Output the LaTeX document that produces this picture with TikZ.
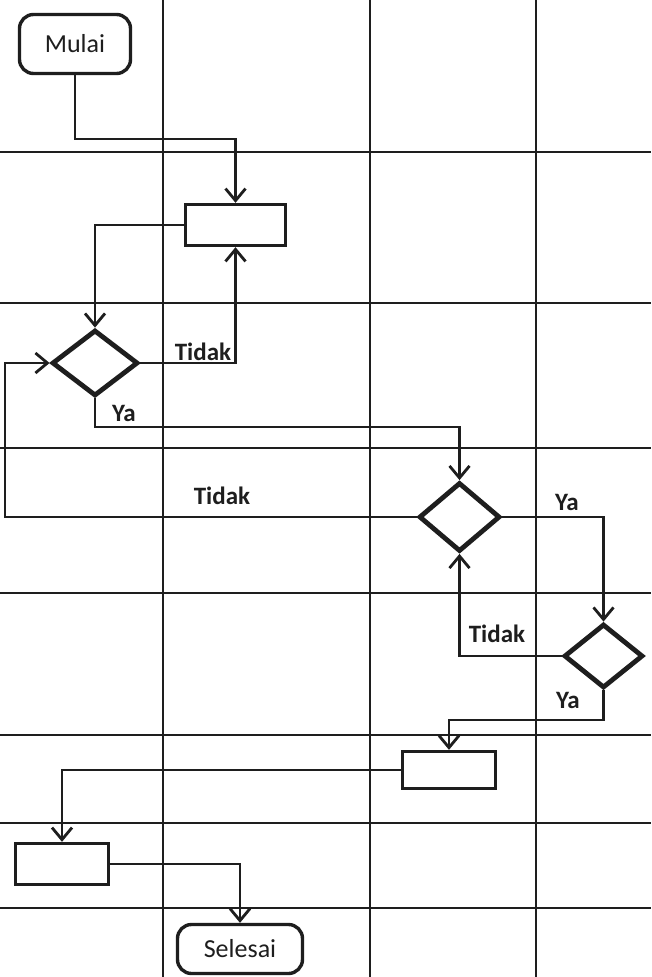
\documentclass[tikz,border=0pt]{standalone}
\usepackage{fontspec}
\setmainfont{Carlito}
\usetikzlibrary{shapes.geometric,arrows.meta}
\definecolor{ink}{HTML}{1E1E1E}
\begin{document}
\begin{tikzpicture}[x=1pt,y=-1pt,
  gridline/.style={draw=ink,line width=1.6pt},
  conn/.style={draw=ink,line width=2.8pt},
  arr/.style={conn,-{Straight Barb[length=12pt,width=20pt,line width=2.8pt]}},
  term/.style={draw=ink,line width=3.4pt,rounded corners=14pt,fill=white,inner sep=0pt,font=\fontsize{26}{29}\selectfont,text=ink},
  proc/.style={draw=ink,line width=3.4pt,fill=white,inner sep=0pt},
  dec/.style={diamond,draw=ink,line width=4.8pt,fill=white,inner sep=0pt},
  lbl/.style={font=\bfseries\fontsize{25}{28}\selectfont,text=ink,inner sep=0pt}
]
\useasboundingbox[fill=white] (0,0) rectangle (651,977);
% grid
\foreach \gx in {163,370,536} \draw[gridline] (\gx,0) -- (\gx,977);
\foreach \gy in {152,303,448,593,735,823,908} \draw[gridline] (0,\gy) -- (651,\gy);

% nodes
\node[term,minimum width=111pt,minimum height=59pt] (mulai) at (75,44) {Mulai};
\node[proc,minimum width=100pt,minimum height=41pt] (box1) at (235.5,225) {};
\node[dec,minimum width=86pt,minimum height=66pt] (d1) at (95,363) {};
\node[dec,minimum width=81pt,minimum height=69pt] (d2) at (459.5,517) {};
\node[dec,minimum width=79pt,minimum height=64pt] (d3) at (603.5,656) {};
\node[proc,minimum width=93pt,minimum height=37pt] (box2) at (449,770) {};
\node[proc,minimum width=93pt,minimum height=41pt] (box3) at (62,864) {};
\node[term,minimum width=125pt,minimum height=49pt] (selesai) at (240,949) {Selesai};

% bend points
\coordinate (k1) at (75,139);
\coordinate (k2) at (95,427);
\coordinate (k3) at (5,517);
\coordinate (k4) at (603.5,720);

% connectors
\draw[arr] (mulai.south) -- (k1) -| (box1.north);
\draw[arr] (box1.west) -| (d1.north);
\draw[arr] (d1.east) -| (box1.south);
\draw[arr] (d1.south) -- (k2) -| (d2.north);
\draw[arr] (d2.west) -- (k3) |- (d1.west);
\draw[arr] (d2.east) -| (d3.north);
\draw[arr] (d3.west) -| (d2.south);
\draw[arr] (d3.south) -- (k4) -| (box2.north);
\draw[arr] (box2.west) -| (box3.north);
\draw[arr] (box3.east) -| (selesai.north);

% labels
\node[lbl] (t1) at (203,352) {Tidak};
\node[lbl] (y1) at (124,413) {Ya};
\node[lbl] (t2) at (222,496) {Tidak};
\node[lbl] (y2) at (567,502) {Ya};
\node[lbl] (t3) at (497,634) {Tidak};
\node[lbl] (y3) at (568,700) {Ya};
\end{tikzpicture}
\end{document}
